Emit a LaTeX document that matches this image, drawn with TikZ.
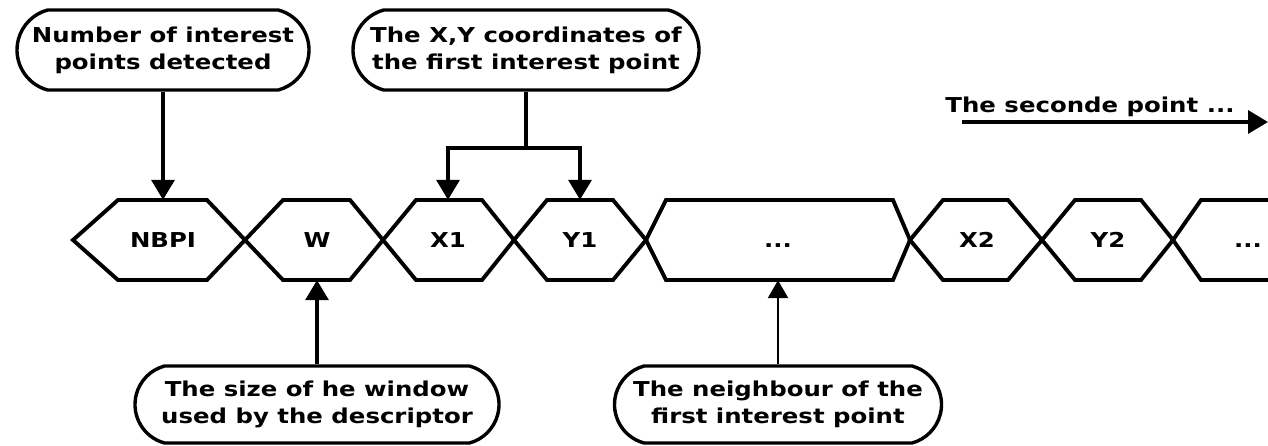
\documentclass[tikz,border=0pt]{standalone}
\usepackage{fontspec}
\newfontfamily\lblfont{DejaVu Sans}[FakeStretch=1.19]
\usetikzlibrary{arrows.meta,shapes.misc}
\tikzset{
  lbl/.style={font=\lblfont\bfseries\fontsize{20.5}{27}\selectfont},
  callout/.style={lbl, draw, line width=3.4pt, rounded rectangle, rounded rectangle arc length=150, inner sep=0pt, align=center},
  hexlabel/.style={lbl, inner sep=0pt, minimum height=80pt, text height=15pt, text depth=0pt},
  hexline/.style={line width=3.9pt, line join=miter},
  arr/.style={line width=3.5pt, -{Triangle[length=20pt,width=23pt]}},
  arrthin/.style={line width=2.6pt, -{Triangle[length=18pt,width=20pt]}},
  branch/.style={line width=3.5pt, line join=miter},
}
\begin{document}
\begin{tikzpicture}[x=1pt,y=-1pt]
\clip (0,0) rectangle (1268,445);
% chain of hexagons
\draw[hexline] (73,240) -- (118,200) -- (207,200) -- (245,240) -- (207,280) -- (118,280) -- cycle;
\draw[hexline] (245,240) -- (283,200) -- (350,200) -- (383,240) -- (350,280) -- (283,280) -- cycle;
\draw[hexline] (383,240) -- (416,200) -- (482,200) -- (514,240) -- (482,280) -- (416,280) -- cycle;
\draw[hexline] (514,240) -- (547,200) -- (613,200) -- (646,240) -- (613,280) -- (547,280) -- cycle;
\draw[hexline] (646,240) -- (666,200) -- (893,200) -- (910,240) -- (893,280) -- (666,280) -- cycle;
\draw[hexline] (910,240) -- (943,200) -- (1008,200) -- (1042,240) -- (1008,280) -- (943,280) -- cycle;
\draw[hexline] (1042,240) -- (1075,200) -- (1141,200) -- (1173,240) -- (1141,280) -- (1075,280) -- cycle;
\draw[hexline] (1290,200) -- (1201,200) -- (1173,240) -- (1201,280) -- (1290,280);
% labels in the chain
\node[hexlabel] (nbpi) at (163,240) {NBPI};
\node[hexlabel] (w) at (317,240) {W};
\node[hexlabel] (x1) at (448,240) {X1};
\node[hexlabel] (y1) at (580,240) {Y1};
\node[hexlabel] (big) at (778,240) {...};
\node[hexlabel] (x2) at (977,240) {X2};
\node[hexlabel] (y2) at (1108,240) {Y2};
\node[hexlabel] (last) at (1248,240) {...};
% callouts
\node[callout, minimum width=292pt, minimum height=80pt] (b1) at (163,50) {Number of interest\\points detected};
\node[callout, minimum width=346pt, minimum height=80pt] (b2) at (526,50) {The X,Y coordinates of\\the first interest point};
\node[callout, minimum width=364pt, minimum height=77pt] (b3) at (317,404.5) {The size of he window\\used by the descriptor};
\node[callout, minimum width=327pt, minimum height=77pt] (b4) at (778,404.5) {The neighbour of the\\first interest point};
% connectors
\draw[arr] (b1.south) -- (nbpi.north);
\coordinate (br) at (526,148);
\draw[branch] (b2.south) -- (br);
\draw[arr] (br) -| (x1.north);
\draw[arr] (br) -| (y1.north);
\draw[arr] (b3.north) -- (w.south);
\draw[arrthin] (b4.north) -- (big.south);
% second point
\node[lbl, anchor=base] (sp) at (1090,112) {The seconde point ...};
\coordinate (s0) at (962,122);
\coordinate (s1) at (1268,122);
\draw[arr] (s0) -- (s1);
\end{tikzpicture}
\end{document}
